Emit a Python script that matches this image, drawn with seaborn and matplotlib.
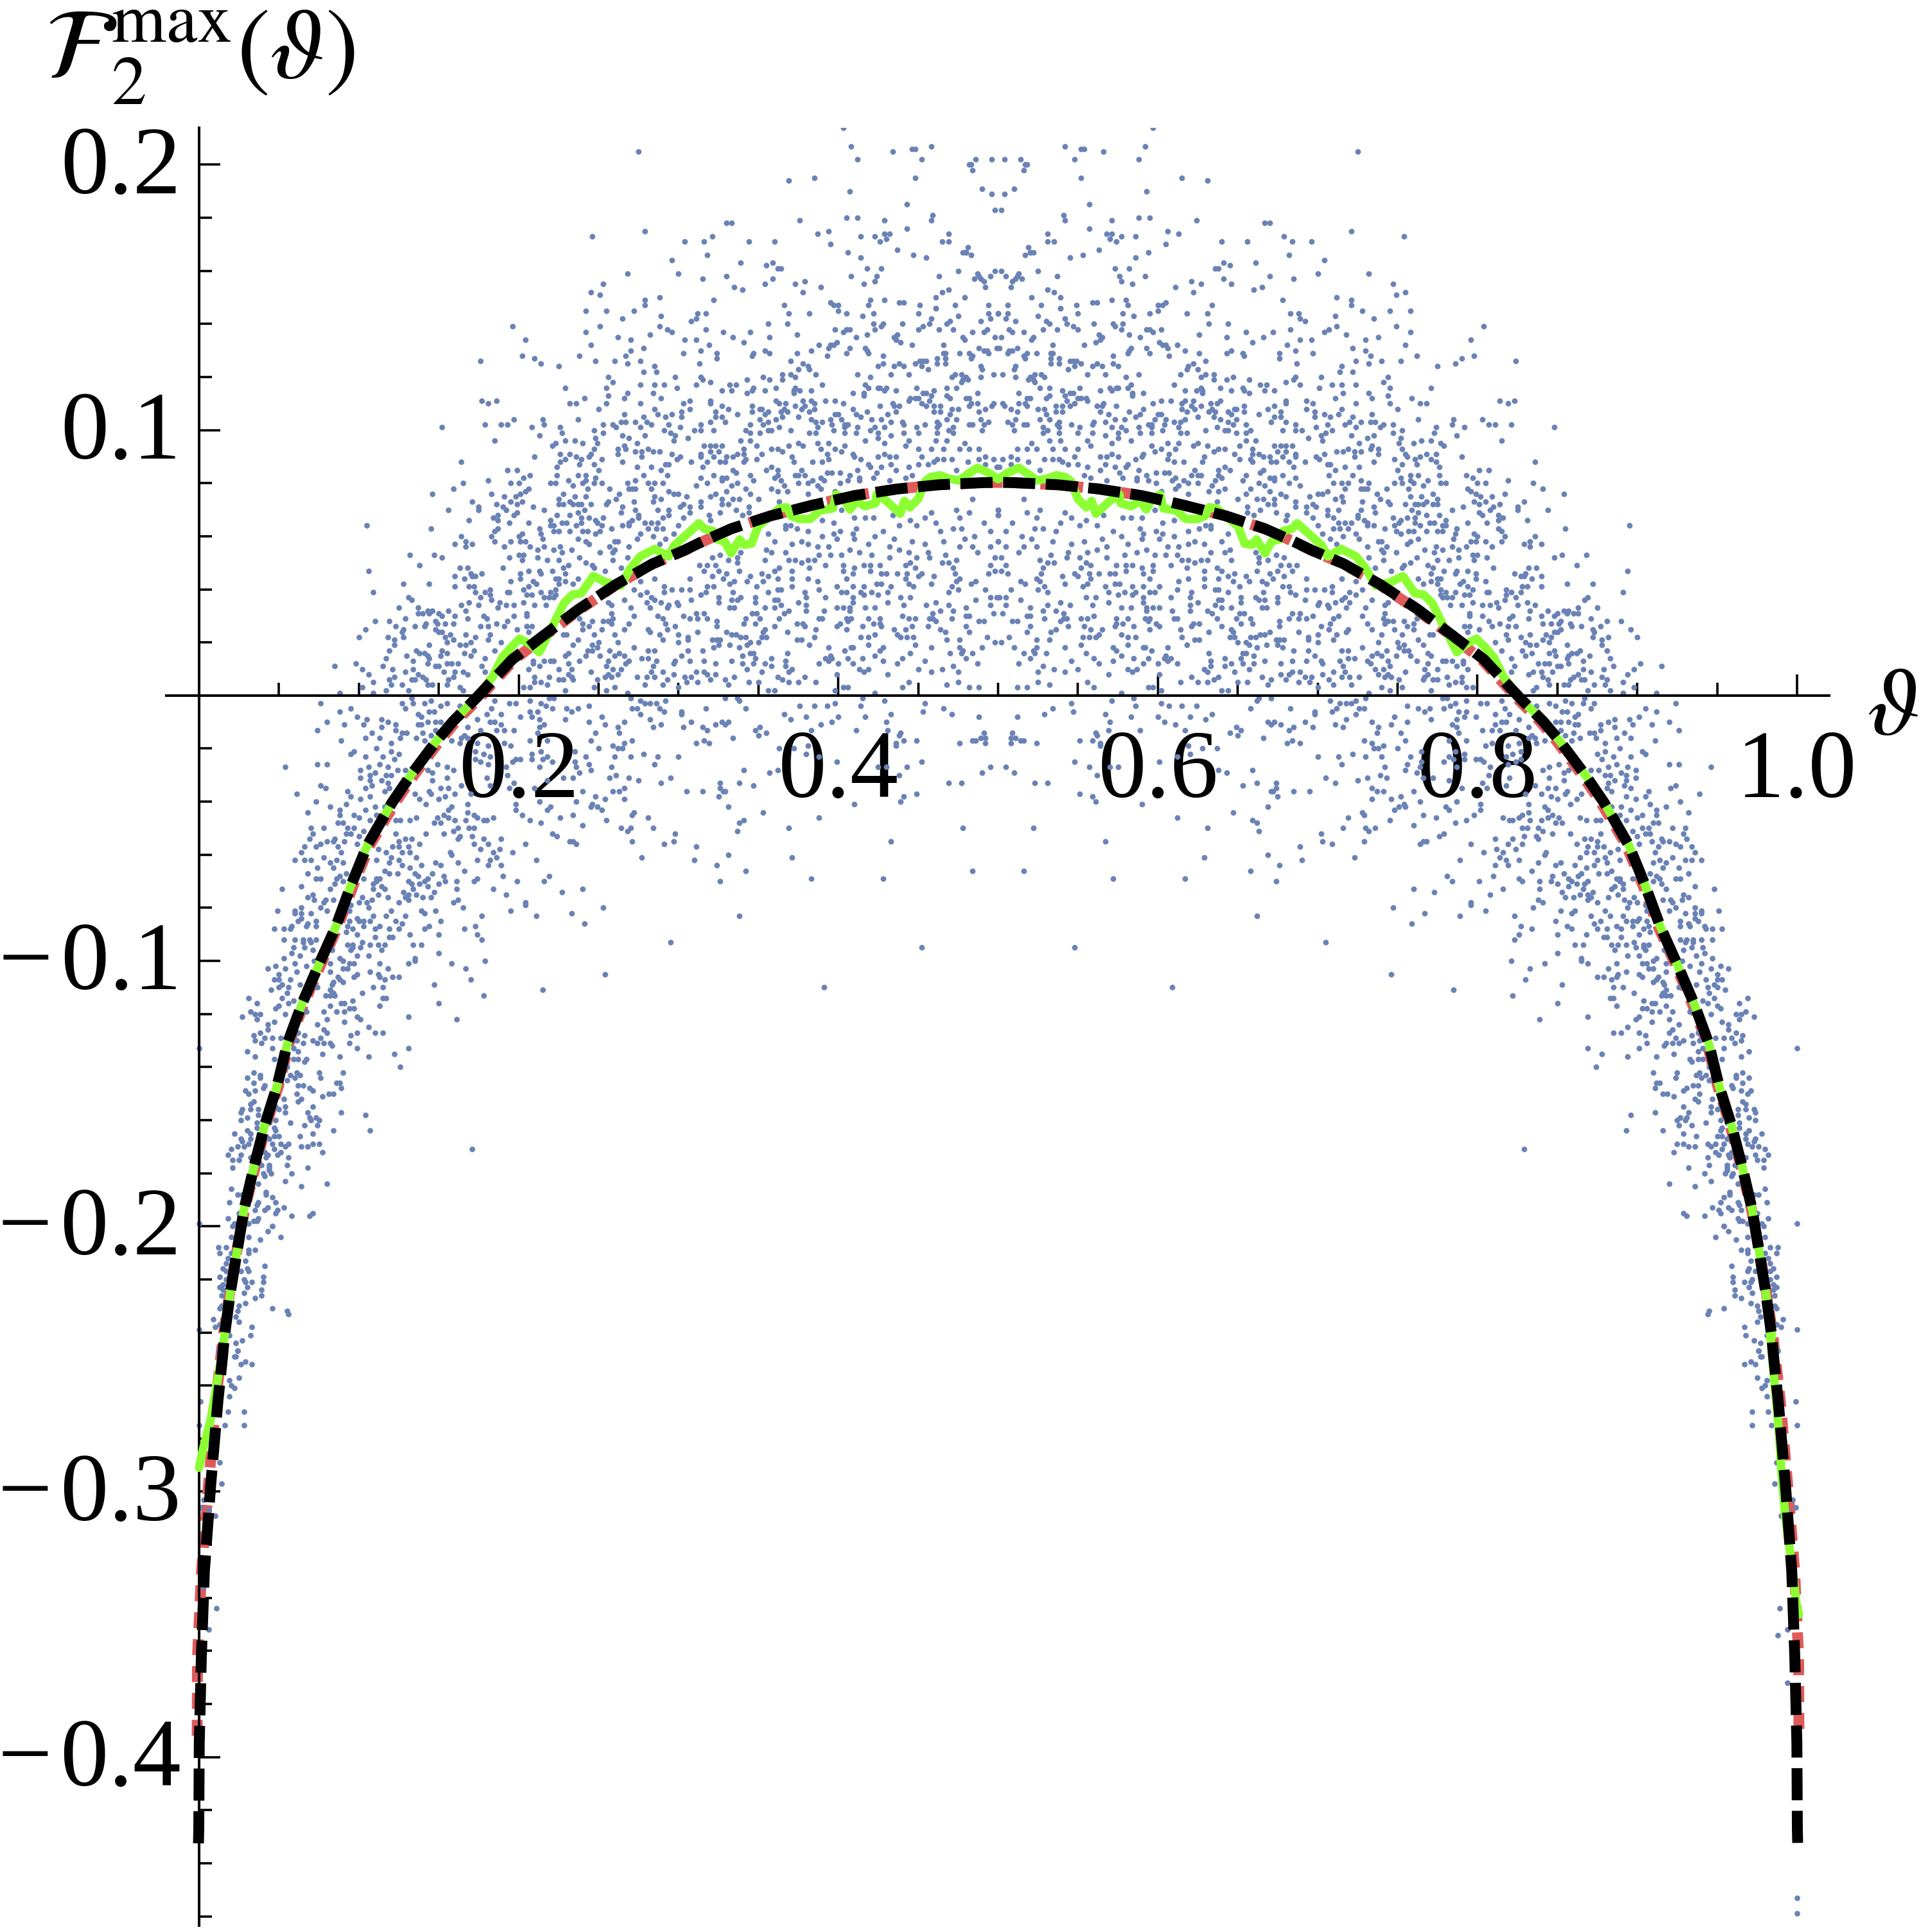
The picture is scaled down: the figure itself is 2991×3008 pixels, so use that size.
import numpy as np
import matplotlib
matplotlib.use("Agg")
import matplotlib.pyplot as plt
import matplotlib.transforms as mtrans
import seaborn as sns

# Values.  Curves are left-half readings (theta, value),
# the picture is mirror-symmetric about theta = 0.5.
black_left = [(-.0004,-.4325),(-.0002,-.4269),(.0001,-.3947),(.0014,-.3624),(.0033,-.33),(.0072,-.2979),(.0118,-.2657),(.0146,-.2496),(.0158,-.2417),(.0194,-.2256),(.0237,-.2096),(.0281,-.1937),(.0342,-.1779),(.0409,-.1622),(.0489,-.1469),(.0552,-.1312),(.0643,-.1163),(.0750,-.1013),(.0855,-.0872),(.0951,-.0715),(.1052,-.0565),(.1206,-.0405),(.1326,-.0299),(.1487,-.0170),(.1588,-.0098),(.1735,-.0009),(.1814,.0042),(.1960,.0136),(.2160,.0228),(.2375,.0325),(.2606,.0417),(.2837,.0496),(.3036,.0547),(.3135,.0576),(.3329,.0628),(.3577,.0677),(.3838,.0717),(.4100,.0753),(.4368,.0778),(.4629,.0794),(.4904,.0802),(.5,.0803)]
red_left = [(-.0012,-.392),(-.0010,-.3624),(.0015,-.33),(.0058,-.2979),(.0105,-.2657),(.0150,-.2417),(.0190,-.2256),(.0235,-.2096),(.0285,-.1937),(.0350,-.1779),(.0418,-.1622),(.0498,-.1469),(.0562,-.1312),(.0655,-.1163),(.0762,-.1013),(.0868,-.0872),(.0965,-.0715),(.1068,-.0565),(.1226,-.0405),(.1346,-.0299),(.1507,-.0170),(.1608,-.0098),(.1755,-.0009),(.1830,.0042),(.1975,.0136),(.2170,.0228),(.2385,.0325),(.2610,.0417),(.2840,.0496),(.3040,.0547),(.3137,.0576),(.3330,.0628),(.3577,.0677),(.3838,.0717),(.4100,.0753),(.4368,.0778),(.4629,.0794),(.4904,.0802),(.5,.0803)]
green_left_tail = [(0,-.291),(.0019,-.2853),(.0073,-.2727),(.0121,-.2559)]
green_right_tail = [(.9815,-.2297),(.9887,-.2778),(.9903,-.2934),(.9927,-.3098),(.9964,-.326),(.9995,-.3417),(1.0012,-.3463)]
green_left = [(.0158,-.2417),(.0194,-.2256),(.0237,-.2096),(.0281,-.1937),(.0342,-.1779),(.0409,-.1622),(.0489,-.1469),(.0552,-.1312),(.0643,-.1163),(.0750,-.1013),(.0855,-.0872),(.0951,-.0715),(.1052,-.0565),(.1206,-.0405),(.1326,-.0299),(.1487,-.0170),(.1588,-.0098),(.1735,-.0009),(.1837,.0070),(.1898,.0144),(.1945,.0177),(.2006,.0214),(.2068,.0195),(.2129,.0163),(.2168,.0209),(.2237,.0292),(.2283,.0348),(.2337,.0380),(.2391,.0385),(.2467,.0450),(.2544,.0427),(.2637,.0413),(.2698,.0478),(.2760,.0524),(.2852,.0552),(.2937,.0524),(.2975,.0566),(.3068,.0616),(.3128,.0649),(.3162,.0628),(.3216,.0620),(.3242,.0588),(.3289,.0580),(.3329,.0536),(.3383,.0588),(.3410,.0568),(.3457,.0572),(.3497,.0636),(.3631,.0705),(.3678,.0709),(.3704,.0677),(.3751,.0665),(.3825,.0665),(.3885,.0697),(.3966,.0705),(.3986,.0757),(.4033,.0741),(.4073,.0701),(.4113,.0733),(.4167,.0713),(.4234,.0725),(.4240,.0757),(.4301,.0733),(.4388,.0685),(.4414,.0733),(.4448,.0709),(.4501,.0741),(.4542,.0806),(.4575,.0822),(.4635,.0830),(.4689,.0818),(.4756,.0810),(.4810,.0834),(.4870,.0858),(.4944,.0838),(.5,.0815)]

# Dots: (theta, value) in thousandths, read region by region from the left half.
dots_low_left_a = [(76,-3),(88,-6),(95,-5),(80,-10),(74,-13),(91,-11),(89,-17),(99,-8),(105,-9),(103,-11),(114,-9),(114,-12),(108,-14),(104,-16),(113,-16),(118,-10),(123,-11),(123,-13),(127,-14),(130,-14),(126,-16),(120,-18),(111,-20),(120,-21),(125,-22),(115,-23),(104,-23),(97,-21),(95,-22),(122,-24),(74,-26),(80,-26),(54,-27),(101,-28),(106,-27),(113,-26),(118,-27),(110,-29),(124,-28),(129,-28),(117,-30),(120,-30),(107,-30),(101,-31),(114,-32),(107,-32),(118,-33),(104,-35),(108,-34),(76,-34),(79,-35),(61,-37),(93,-36),(116,-36),(119,-35),(95,-38),(101,-39),(107,-38),(73,-40),(82,-42),(92,-41),(88,-43),(104,-43),(110,-42),(116,-42),(68,-44),(97,-45),(88,-45),(100,-46),(111,-45),(107,-47),(87,-48),(90,-48),(78,-50),(70,-50),(71,-52),(93,-50),(97,-50),(103,-51),(92,-52),(95,-52),(100,-53),(69,-54),(85,-54),(91,-55),(80,-55),(84,-55),(66,-57),(73,-57),(76,-56),(87,-57),(64,-59),(89,-59),(99,-56),(78,-61),(60,-62),(66,-62),(70,-62),(82,-63),(86,-62),(90,-63),(84,-65),(74,-65),(68,-67),(73,-69),(76,-69),(86,-69),(88,-68),(92,-67),(85,-71),(90,-70),(52,-73),(64,-72),(82,-73),(71,-75),(68,-76),(72,-77),(79,-77),(84,-77),(78,-78),(76,-80),(49,-81),(64,-80),(60,-81),(64,-82),(60,-82),(70,-82),(80,-81),(64,-84),(62,-85),(73,-85),(68,-86),(58,-87),(73,-87),(47,-88),(53,-88),(57,-88),(67,-87),(53,-92),(60,-92),(65,-92),(69,-92),(65,-93),(70,-93),(73,-92),(59,-95),(66,-95),(71,-96),(58,-97),(63,-98),(53,-99),(72,-100),(43,-103),(48,-102),(54,-103),(60,-101),(61,-104),(67,-102),(50,-105),(47,-107),(50,-107),(57,-107),(52,-109),(56,-110),(50,-110),(45,-111),(63,-109),(55,-112),(52,-114),(31,-114),(36,-116),(56,-116),(59,-115),(50,-117),(48,-118),(32,-119),(38,-120),(35,-120),(27,-121),(36,-122),(54,-120),(47,-123),(43,-124)]
dots_low_left_b = [(133,-1),(127,-3),(134,-3),(141,-3),(145,-2),(151,-4),(155,-3),(163,-4),(129,-5),(144,-6),(147,-6),(137,-7),(139,-8),(143,-10),(148,-10),(151,-10),(139,-11),(137,-11),(140,-14),(148,-13),(145,-15),(136,-16),(141,-17),(158,-17),(163,-18),(168,-16),(164,-16),(166,-15),(174,-9),(180,-7),(183,-5),(189,-7),(194,-3),(198,-3),(185,-2),(182,-10),(185,-10),(189,-11),(186,-13),(191,-13),(197,-13),(201,-8),(176,-13),(168,-12),(174,-18),(181,-19),(191,-18),(195,-19),(173,-21),(178,-22),(182,-23),(173,-24),(176,-25),(181,-26),(198,-24),(201,-24),(196,-25),(192,-27),(149,-26),(155,-27),(159,-28),(143,-28),(146,-29),(155,-31),(146,-32),(156,-35),(151,-35),(144,-36),(164,-34),(180,-31),(182,-34),(193,-30),(197,-33),(194,-35),(135,-37),(138,-39),(145,-37),(150,-39),(154,-38),(160,-37),(142,-41),(168,-41),(156,-43),(158,-42),(170,-37),(198,-41),(198,-43),(202,-45),(136,-46),(132,-47),(126,-47),(123,-47),(149,-46),(147,-48),(151,-48),(153,-45),(156,-46),(160,-47),(168,-44),(172,-45),(167,-47),(174,-46),(178,-47),(180,-47),(184,-46),(169,-50),(172,-50),(162,-50),(159,-51),(153,-52),(142,-52),(123,-52),(163,-53),(162,-54),(171,-53),(129,-54),(133,-54),(125,-55),(178,-54),(189,-54),(181,-56),(138,-56),(172,-56),(125,-57),(121,-57),(112,-58),(131,-57),(176,-58),(204,-56),(188,-58),(184,-59),(117,-59),(127,-59),(132,-59),(157,-59),(196,-59),(136,-61),(158,-60),(120,-61),(125,-62),(111,-62),(186,-61),(174,-62),(182,-62),(148,-63),(162,-63),(119,-63),(181,-64),(151,-64),(127,-64),(139,-64),(189,-64),(132,-65),(166,-66),(116,-66),(119,-67),(124,-67),(146,-67),(135,-67),(190,-68),(153,-68),(174,-69),(137,-68),(111,-69),(113,-69),(143,-69),(131,-70),(154,-70),(161,-70),(199,-70),(172,-70),(103,-69),(141,-70),(109,-71),(111,-70),(133,-71),(138,-71),(150,-71),(114,-72),(143,-72),(184,-73),(116,-73),(134,-73),(109,-73),(161,-73),(128,-74),(147,-74),(131,-75),(112,-75),(136,-75),(145,-76),(192,-75),(102,-76),(118,-76),(140,-76),(129,-76),(131,-77),(162,-77),(159,-78),(108,-77),(125,-78),(105,-78),(100,-78),(204,-78),(165,-80),(204,-79),(95,-79),(106,-80),(148,-81),(139,-81),(120,-81),(94,-81),(195,-81),(141,-82),(109,-83),(177,-83),(117,-83),(129,-83),(99,-84),(123,-85),(94,-85),(151,-85),(100,-85),(103,-85),(107,-85),(127,-86),(93,-87),(113,-87),(173,-87),(141,-88),(144,-87),(96,-88),(103,-87),(119,-88),(125,-88),(166,-88),(110,-88),(92,-89),(150,-90),(99,-90),(174,-90),(132,-90),(110,-91),(119,-91),(121,-91),(177,-92),(93,-94),(96,-94),(102,-93),(107,-94),(112,-94),(116,-94),(134,-94),(139,-94),(96,-95),(101,-95),(83,-96),(114,-96),(95,-96),(150,-97),(99,-98),(106,-98),(135,-99),(88,-99),(90,-100),(131,-101),(135,-100),(179,-100),(158,-101),(113,-101),(94,-101),(97,-101),(82,-101),(90,-103),(93,-103),(167,-103),(118,-103),(82,-104),(107,-104),(112,-105),(99,-105),(97,-106),(121,-106),(125,-106),(113,-106),(87,-106),(170,-107),(88,-107),(90,-108),(116,-107),(84,-108),(147,-109),(83,-109),(115,-110),(82,-111),(74,-110),(109,-110),(84,-112),(102,-112),(178,-113),(79,-113),(82,-113),(85,-113),(115,-114),(117,-114),(113,-117),(96,-115),(89,-116),(91,-116),(150,-116),(82,-117),(67,-119),(78,-119),(91,-119),(94,-118),(97,-118),(86,-119),(131,-121),(99,-121),(101,-122),(161,-122),(80,-122),(74,-124),(91,-123),(106,-125)]
dots_arc_lower = [(43,-126),(38,-127),(34,-128),(41,-129),(46,-129),(35,-130),(39,-131),(51,-129),(0,-133),(30,-134),(35,-136),(46,-133),(62,-127),(66,-128),(61,-130),(71,-130),(76,-129),(80,-127),(78,-126),(95,-128),(99,-127),(110,-127),(115,-127),(65,-131),(74,-131),(78,-131),(82,-131),(83,-132),(94,-131),(99,-133),(131,-133),(122,-135),(59,-133),(62,-134),(77,-135),(88,-136),(106,-136),(126,-140),(59,-137),(62,-137),(67,-137),(66,-138),(47,-137),(55,-140),(75,-142),(90,-142),(34,-142),(38,-143),(30,-144),(38,-144),(57,-143),(61,-142),(63,-143),(60,-144),(76,-144),(55,-145),(86,-146),(88,-146),(34,-146),(41,-147),(62,-147),(65,-147),(89,-148),(69,-148),(71,-149),(29,-149),(35,-149),(40,-148),(31,-150),(61,-150),(81,-150),(84,-150),(77,-151),(53,-152),(64,-152),(62,-153),(34,-153),(32,-154),(71,-155),(54,-155),(27,-156),(32,-156),(37,-156),(48,-155),(50,-156),(26,-157),(68,-157),(89,-157),(54,-157),(104,-158),(30,-159),(37,-158),(26,-160),(48,-160),(69,-159),(73,-159),(70,-160),(75,-160),(36,-161),(44,-161),(57,-161),(66,-162),(74,-162),(36,-163),(47,-163),(48,-164),(107,-164),(84,-164),(22,-165),(30,-164),(32,-165),(71,-165),(50,-166),(63,-166),(44,-167),(47,-166),(26,-167),(32,-167),(27,-168),(31,-169),(56,-169),(46,-169),(51,-169),(64,-170),(68,-170),(71,-169),(75,-169),(54,-170),(24,-170),(28,-170),(20,-171),(47,-171),(171,-171),(18,-173),(51,-172),(49,-173),(77,-172),(26,-173),(41,-172),(43,-173),(32,-174),(56,-174),(21,-175),(25,-175),(42,-174),(44,-177),(55,-177),(21,-178),(39,-177),(44,-178),(68,-178),(44,-179),(58,-180),(45,-180),(40,-180),(41,-181),(54,-183),(80,-184),(64,-185),(37,-184),(20,-186),(24,-188),(27,-188),(42,-187),(42,-188),(46,-189),(48,-191),(19,-191),(37,-191),(36,-192),(43,-193),(41,-194),(49,-194),(53,-193),(35,-194),(25,-195),(71,-195),(48,-195),(58,-196),(69,-196),(18,-197),(37,-197),(34,-198),(36,-198),(22,-199),(0,-199),(46,-200),(46,-200),(21,-200),(43,-202),(31,-199),(20,-204),(31,-204),(51,-204),(38,-205),(12,-208),(13,-210),(17,-208),(31,-209),(35,-209),(20,-210),(31,-210),(18,-212),(29,-213),(41,-215),(17,-214),(30,-216),(15,-216),(17,-217),(26,-217),(31,-217),(13,-219),(40,-219),(28,-220),(17,-220),(29,-221),(33,-221),(40,-221),(13,-223),(15,-222),(30,-223),(15,-224),(28,-225),(39,-224),(14,-226),(39,-226),(35,-227),(29,-229),(14,-230),(25,-230),(46,-231),(13,-231),(24,-232),(55,-232),(56,-233),(9,-235),(23,-234),(25,-236),(10,-238),(33,-238),(13,-237),(32,-241),(19,-241),(27,-243),(23,-244),(24,-247),(23,-249),(0,-239),(12,-247),(33,-252),(29,-251),(26,-252),(22,-249),(24,-247),(25,-257),(19,-258),(22,-261),(20,-260),(19,-264),(28,-270),(28,-275),(18,-270),(16,-275),(13,-289),(14,-297),(10,-309),(6,-307),(11,-344),(6,-352),(1,-266),(0,-275),(3,-303),(1,-306),(3,-336)]
dots_below_centre = [(207,-2),(214,-3),(219,-1),(222,-1),(217,-4),(221,-5),(230,-5),(233,-6),(237,-5),(244,-4),(207,-6),(212,-6),(213,-9),(229,-9),(208,-8),(252,-8),(244,-10),(254,-11),(262,-12),(266,-10),(213,-12),(216,-11),(212,-14),(248,-14),(263,-14),(207,-17),(218,-17),(245,-17),(271,-17),(266,-18),(259,-19),(250,-20),(262,-20),(265,-20),(235,-21),(214,-21),(208,-22),(242,-23),(260,-23),(270,-23),(278,-22),(287,-23),(300,-23),(218,-23),(208,-24),(215,-24),(235,-25),(221,-25),(285,-26),(213,-27),(236,-27),(244,-26),(245,-28),(258,-27),(238,-29),(261,-30),(257,-31),(228,-31),(234,-31),(269,-31),(295,-31),(275,-32),(218,-32),(289,-33),(266,-35),(210,-35),(240,-36),(305,-36),(315,-36),(259,-36),(263,-36),(248,-38),(254,-39),(266,-39),(236,-40),(213,-40),(220,-42),(218,-43),(246,-41),(245,-42),(249,-42),(252,-43),(272,-44),(271,-45),(234,-45),(226,-46),(207,-47),(214,-48),(281,-46),(255,-47),(240,-49),(284,-50),(264,-50),(268,-51),(270,-50),(298,-52),(221,-52),(224,-53),(297,-55),(271,-55),(232,-55),(234,-55),(236,-56),(291,-56),(311,-57),(211,-62),(277,-61),(310,-62),(331,-60),(324,-64),(342,-66),(219,-68),(216,-70),(326,-70),(240,-73),(227,-74),(253,-80),(211,-83),(233,-82),(241,-86),(338,-83),(295,-93),(254,-105),(215,-111),(391,-110),(452,-95),(484,-66),(428,-69),(383,-69),(371,-61),(433,-55),(478,-50),(369,-50),(388,-46),(353,-44),(341,-47),(338,-48),(337,-51),(331,-42),(325,-38),(328,-36),(329,-36),(326,-35),(326,-33),(338,-33),(347,-34),(357,-29),(362,-28),(341,-28),(363,-20),(410,-41),(439,-40),(441,-38),(449,-37),(469,-33),(477,-33),(490,-29),(495,-27),(438,-30),(443,-27),(452,-25),(399,-25),(425,-27),(430,-27),(380,-22),(381,-19),(372,-20),(388,-23),(436,-19),(436,-18),(441,-17),(449,-17),(438,-15),(439,-14),(476,-18),(484,-17),(486,-17),(489,-16),(492,-16),(492,-18),(491,-14),(270,-1),(276,-2),(279,-3),(282,-3),(286,-3),(292,-2),(271,-5),(274,-5),(276,-7),(288,-5),(291,-6),(282,-9),(284,-12),(289,-11),(302,-6),(302,-7),(317,-5),(303,-12),(308,-10),(315,-12),(318,-13),(323,-11),(327,-10),(329,-11),(331,-10),(329,-1),(337,-1),(338,-2),(342,-5),(334,-16),(348,-13),(351,-12),(350,-15),(355,-14),(316,-17),(311,-18),(319,-18),(366,-7),(370,-9),(376,-4),(385,-4),(380,-8),(393,-4),(398,-3),(400,-8),(396,-10),(389,-11),(383,-13),(411,-13),(414,-4),(415,-1),(417,-8),(429,-2),(433,-7),(430,-10),(431,-13),(454,-3),(453,-6),(466,-5),(471,-7),(488,-8)]
dots_mid_left_upper = [(196,139),(204,134),(202,128),(176,126),(210,127),(214,125),(225,124),(242,145),(255,145),(272,145),(265,142),(251,139),(242,137),(245,132),(238,128),(248,126),(260,126),(262,135),(270,134),(267,128),(270,130),(268,125),(278,131),(276,126),(282,136),(289,143),(288,139),(293,138),(296,137),(304,134),(303,129),(285,124),(286,122),(278,122),(256,120),(259,118),(255,116),(229,116),(256,113),(268,114),(276,117),(285,117),(291,117),(298,120),(299,116),(284,114),(241,112),(232,110),(236,110),(177,111),(181,110),(186,111),(250,108),(255,110),(266,112),(276,110),(289,112),(303,110),(307,111),(285,108),(302,107),(307,108),(296,106),(287,106),(292,105),(302,105),(266,106),(278,105),(215,104),(216,102),(197,104),(193,102),(189,102),(179,102),(237,104),(259,102),(253,102),(264,103),(267,103),(273,103),(280,103),(283,102),(294,102),(301,101),(152,101),(208,101),(226,101),(247,100),(261,101),(276,101),(291,100),(227,99),(253,99),(295,99),(265,98),(279,98),(213,98),(248,97),(269,97),(298,98),(185,96),(229,96),(235,96),(306,97),(297,96),(274,95),(249,95),(223,95),(240,95),(221,94),(247,93),(262,93),(266,94),(267,93),(281,93),(277,92),(284,92),(288,92),(273,92),(245,91),(262,91),(226,91),(232,91),(296,91),(236,90),(210,90),(301,90),(277,90),(239,89),(244,90),(229,89),(299,89),(265,88),(252,89),(226,88),(164,88),(247,87),(308,88),(292,87),(238,87),(294,87),(274,86),(283,86),(224,86),(250,85),(193,85),(199,85),(289,85),(237,83),(242,83),(224,83),(278,83),(293,83),(207,83),(203,82),(248,82),(231,81),(290,80),(181,81),(165,80),(195,80),(200,80),(268,80),(281,80),(220,80),(223,80),(242,81),(247,80),(252,80),(285,80),(273,81),(234,79),(240,80),(206,78),(243,78),(257,78),(269,78),(159,78),(271,78),(273,78),(283,78),(204,77),(201,76),(294,77),(263,76),(228,76),(146,76),(183,76),(305,75),(297,76),(300,76),(198,75),(235,75),(191,75),(242,75),(285,75),(225,74),(261,74),(195,73),(232,73),(234,72),(256,73),(284,73),(289,74),(202,73),(171,73),(199,72),(237,72),(239,72),(303,72),(272,73),(245,72),(255,72),(265,71),(225,72),(228,72),(175,71),(186,72),(175,70),(209,71),(190,71),(192,70),(156,70),(301,71),(307,71),(216,70),(241,70),(273,70),(287,70),(294,70),(264,69),(199,69),(197,68),(237,69),(187,68),(232,68),(224,68),(275,68),(294,68),(290,67),(303,67),(307,69),(184,67),(244,67),(239,67),(220,66),(253,67),(187,66),(248,66),(275,67),(271,66),(279,65),(169,66),(239,65),(206,65),(283,65),(105,64),(194,65),(269,65),(227,65),(230,65),(249,65),(252,64),(265,64),(287,65),(300,64),(220,64),(236,64),(222,64),(258,63),(269,64),(145,63),(187,63),(213,63),(281,63),(286,63),(290,63),(225,62),(222,62),(232,62),(240,62),(251,62),(243,62),(185,62),(202,61),(248,61),(297,61),(214,61),(164,60),(200,60),(276,61),(284,60),(183,60),(237,59),(215,59),(201,58),(274,59),(167,58),(185,58),(204,58),(195,58),(242,58),(292,59),(260,58),(262,58),(160,57),(171,57),(244,57),(288,57),(191,56),(216,56),(226,56),(257,56),(269,56),(167,56),(222,55),(207,56),(212,55),(233,55),(260,55),(251,54),(227,54),(200,53),(203,53),(132,53),(147,53),(152,52),(259,54),(194,52),(212,52),(238,52),(268,52),(218,51),(225,51),(242,50),(202,51),(259,51)]
dots_mid_left_lower = [(163,48),(168,48),(170,46),(177,46),(160,45),(166,44),(171,45),(173,45),(106,47),(138,49),(190,48),(201,46),(206,47),(213,47),(214,46),(221,47),(228,48),(231,49),(229,46),(246,49),(247,48),(254,47),(264,48),(223,44),(225,44),(237,44),(229,43),(201,44),(144,42),(128,42),(195,43),(209,43),(225,42),(234,42),(285,44),(307,44),(160,41),(206,41),(211,42),(276,43),(109,39),(169,41),(172,41),(182,40),(223,40),(291,41),(203,40),(193,39),(296,40),(302,40),(173,39),(179,39),(194,39),(208,38),(214,39),(220,39),(307,40),(272,40),(182,38),(205,38),(223,38),(280,39),(291,39),(276,38),(176,37),(131,37),(133,36),(183,36),(216,37),(219,37),(222,37),(266,36),(283,37),(285,36),(308,36),(188,35),(164,34),(169,35),(175,34),(203,35),(217,34),(256,35),(289,35),(280,35),(299,35),(294,34),(258,34),(187,33),(192,34),(197,34),(210,34),(300,34),(270,33),(125,33),(137,33),(143,32),(146,32),(156,32),(167,32),(282,33),(293,33),(150,31),(137,31),(140,31),(144,31),(205,31),(258,31),(303,30),(160,30),(178,30),(197,30),(152,30),(205,30),(129,29),(272,30),(287,30),(238,29),(168,29),(180,29),(290,29),(307,29),(110,28),(186,27),(119,28),(148,28),(193,28),(240,27),(246,28),(253,28),(256,28),(269,27),(292,27),(259,29),(123,26),(142,27),(154,27),(159,27),(176,26),(181,26),(208,26),(135,26),(141,26),(149,27),(191,26),(205,26),(244,26),(252,25),(258,27),(293,25),(298,26),(104,25),(128,25),(148,25),(199,25),(240,25),(266,25),(281,25),(306,22),(206,24),(127,24),(152,24),(150,24),(282,24),(300,23),(288,23),(100,22),(118,22),(182,23),(228,23),(230,23),(247,23),(260,23),(154,22),(128,22),(167,23),(157,23),(159,21),(122,21),(170,20),(173,22),(181,21),(189,20),(237,21),(250,20),(290,21),(306,21),(122,19),(144,19),(155,20),(163,19),(167,19),(234,19),(246,19),(262,20),(300,20),(119,17),(136,17),(152,17),(172,17),(185,17),(249,18),(272,18),(243,17),(246,17),(281,17),(306,17),(231,16),(285,17),(257,17),(138,16),(141,16),(166,16),(170,15),(130,15),(143,15),(151,15),(155,16),(229,15),(251,15),(260,15),(263,16),(266,15),(302,15),(117,14),(144,14),(179,14),(242,15),(277,14),(281,14),(134,13),(209,13),(220,13),(222,13),(238,13),(256,13),(269,13),(286,13),(298,13),(307,13),(85,11),(98,12),(143,12),(155,12),(158,12),(216,13),(213,11),(231,12),(177,11),(209,12),(255,11),(259,10),(267,12),(284,11),(297,12),(115,11),(148,11),(150,11),(162,12),(206,10),(225,10),(233,10),(264,10),(102,10),(121,10),(134,10),(129,9),(153,9),(165,9),(179,9),(245,9),(290,9),(283,9),(297,8),(106,8),(168,8),(160,9),(231,8),(256,8),(262,8),(274,7),(280,7),(304,7),(122,7),(159,7),(137,8),(140,7),(210,7),(219,7),(233,7),(254,7),(249,6),(258,7),(285,7),(308,7),(119,6),(133,6),(135,6),(142,6),(156,6),(225,6),(228,6),(234,6),(293,6),(109,5),(214,5),(305,5),(120,4),(127,4),(143,4),(146,4),(155,4),(210,5),(218,4),(279,4),(290,4),(300,3),(102,3),(117,2),(203,3),(207,3),(163,3),(229,2),(255,2),(268,1),(109,1),(88,1),(131,2),(165,2),(260,3),(247,3)]
dots_top = [(275,205),(246,173),(268,159),(253,155),(245,152),(251,151),(279,175),(279,149),(279,147),(288,150),(304,171),(296,164),(300,159),(308,141),(403,214),(408,207),(412,202),(434,205),(446,206),(448,206),(458,207),(452,202),(486,202),(483,200),(482,200),(496,202),(484,198),(369,194),(385,195),(448,195)]
dots_upper_band = [(407,190),(490,191),(496,189),(443,185),(498,183),(330,178),(333,178),(376,179),(405,180),(412,180),(429,179),(459,181),(458,179),(321,173),(316,171),(344,171),(360,171),(387,174),(394,175),(395,170),(414,173),(423,173),(426,171),(429,174),(430,172),(432,174),(443,176),(469,174),(465,171),(469,171),(437,168),(318,166),(406,167),(414,165),(447,166),(455,165),(481,169),(478,167),(480,167),(480,167),(483,166),(339,163),(355,162),(359,163),(362,161),(364,161),(418,161),(427,161),(315,157),(330,158),(359,157),(408,158),(424,158),(423,156),(463,158),(475,160),(487,159),(498,160),(485,157),(488,158),(489,157),(491,156),(495,158),(335,154),(340,153),(354,155),(373,155),(379,156),(389,154),(416,155),(492,154),(378,152),(469,153),(465,152),(479,150),(461,150),(322,149),(366,147),(395,148),(397,147),(400,147),(420,149),(429,149),(419,147),(438,148),(441,148),(451,147),(473,147),(494,147),(461,146)]
dots_middle_band = [(312,144),(317,144),(311,142),(317,138),(328,137),(334,135),(311,134),(341,133),(319,132),(314,130),(324,129),(324,127),(313,125),(345,137),(356,140),(357,135),(354,130),(357,129),(347,129),(346,128),(369,144),(368,140),(382,144),(374,136),(374,129),(383,130),(388,132),(370,126),(378,125),(381,124),(382,123),(375,123),(365,121),(370,121),(373,120),(386,121),(353,120),(357,119),(365,119),(343,119),(314,120),(315,119),(320,118),(311,117),(332,117),(336,117),(333,115),(327,115),(347,116),(346,115),(343,114),(354,115),(361,116),(373,116),(372,115),(372,114),(376,115),(383,115),(390,117),(361,111),(363,110),(367,110),(320,111),(320,110),(378,111),(379,109),(383,111),(385,110),(392,111),(398,111),(403,110),(400,145),(405,144),(415,143),(422,144),(398,138),(403,137),(407,138),(405,138),(411,135),(418,136),(423,138),(422,140),(428,140),(427,139),(440,140),(399,133),(395,132),(397,132),(394,131),(407,131),(405,129),(393,128),(417,131),(418,130),(419,129),(428,128),(435,135),(437,136),(436,134),(439,133),(446,132),(450,138),(453,139),(450,144),(457,140),(458,142),(463,138),(461,146),(468,140),(470,141),(472,138),(475,143),(484,137),(489,141),(494,144),(495,142),(500,144),(491,137),(493,138),(478,135),(479,134),(498,135),(466,132),(466,129),(467,129),(476,129),(482,129),(484,128),(483,127),(488,131),(491,130),(493,130),(494,129),(499,131),(462,127),(467,127),(462,125),(467,125),(451,126),(453,126),(455,126),(448,125),(452,124),(456,123),(425,124),(428,125),(435,124),(438,125),(441,124),(433,121),(444,121),(412,121),(420,120),(489,124),(490,123),(497,121),(473,121),(477,121),(471,120),(489,120),(480,120),(478,119),(481,119),(477,118),(417,117),(419,116),(425,116),(426,116),(430,116),(429,115),(436,115),(449,116),(409,114),(416,114),(416,113),(460,115),(468,116),(474,116),(453,114),(455,114),(458,113),(468,113),(470,112),(457,111),(444,111),(445,112),(448,112),(450,112),(487,114),(480,112),(482,112),(434,110),(452,110),(455,109),(460,109),(435,109),(438,109),(426,109),(464,109),(483,110),(482,109),(487,110),(497,110),(496,109),(492,108),(475,108),(471,108),(488,107),(464,107),(460,107),(470,106),(436,107),(431,106),(418,107),(409,108),(411,106),(414,105),(398,106),(400,106),(385,108),(382,107),(377,108),(373,109),(364,107),(366,108),(368,107),(365,105),(354,106),(356,107),(351,108),(352,108),(346,109),(346,107),(337,106),(331,108),(327,109),(323,107),(327,105),(323,105),(329,103),(320,103),(314,102),(322,100),(314,100),(310,100),(345,102),(351,104),(353,102),(356,103),(361,104),(375,105),(363,101),(342,100),(345,99),(351,99),(356,100),(358,100),(370,100),(383,104),(390,103),(386,103),(387,101),(395,104),(396,102),(402,104),(404,102),(406,102),(404,101),(397,100),(386,99),(382,99),(404,99),(412,101),(411,99),(420,100),(423,101),(421,104),(427,104),(429,101),(433,103),(440,103),(441,102),(441,99),(449,101),(454,102),(450,99),(462,103),(462,101),(463,102),(468,104),(469,100),(472,101),(472,99),(474,104),(482,102),(484,102),(489,104),(491,102),(494,103),(490,100),(462,99),(425,99),(433,98)]
dots_centre_a = [(316,94),(320,94),(323,94),(327,94),(320,92),(325,92),(314,91),(322,90),(330,90),(334,90),(314,90),(318,88),(326,88),(329,88),(341,88),(342,89),(337,91),(341,91),(341,93),(345,96),(339,96),(349,94),(352,91),(349,89),(358,93),(362,93),(365,92),(369,94),(375,95),(378,94),(371,90),(372,88),(384,88),(390,88),(394,89),(389,93),(387,95),(394,95),(398,93),(404,94),(402,92),(409,91),(410,90),(414,89),(393,91),(419,87),(425,90),(429,91),(432,90),(436,90),(417,96),(425,97),(429,95),(442,94),(444,96),(450,93),(452,90),(450,87),(456,87),(458,93),(461,96),(468,96),(466,93),(462,89),(460,88),(466,89),(471,89),(476,93),(479,95),(482,93),(481,88),(488,93),(488,89),(492,90),(492,87),(497,89),(499,86),(315,86),(334,85),(336,84),(355,85),(358,86),(362,85),(377,85),(393,84),(396,84),(401,84),(407,83),(412,85),(420,86),(427,86),(433,87),(436,85),(444,86),(474,85),(322,83),(327,82),(330,82),(345,83),(360,82),(362,83),(373,83),(375,83),(379,83),(389,82),(413,82),(422,82),(424,84),(446,83),(442,82),(314,82),(327,81),(337,80),(347,81),(364,81),(375,80),(384,81),(391,81),(406,81),(413,81),(432,81),(318,80),(311,79),(333,79),(342,78),(358,78),(366,79),(381,80),(387,79),(398,77),(401,80),(330,77),(345,76),(362,77),(368,77),(381,76),(389,78),(320,75),(323,76),(314,73),(327,74),(334,74),(338,74),(350,74),(344,71),(331,72),(327,72),(314,71),(319,68),(326,69),(336,70),(340,68),(344,69),(363,73),(320,66)]
dots_centre_b = [(367,64),(367,63),(370,64),(374,63),(381,62),(390,66),(397,65),(402,70),(410,67),(417,67),(422,67),(434,68),(445,66),(454,67),(458,69),(461,65),(449,64),(438,64),(411,63),(401,62),(397,61),(390,60),(409,61),(423,60),(428,62),(356,61),(360,58),(371,57),(377,58),(381,57),(387,56),(399,59),(410,59),(419,57),(432,56),(435,59),(446,58),(454,57),(466,58),(472,63),(477,63),(464,62),(479,59),(485,60),(491,65),(495,62),(482,69),(476,67),(474,70),(484,74),(500,70),(500,68),(500,58),(495,56),(476,56),(484,56),(487,54),(456,54),(444,54),(438,55),(421,53),(413,54),(407,55),(402,53),(395,53),(394,56),(388,53),(367,54),(358,54),(355,55),(326,53),(337,52),(339,54),(321,52),(331,51),(337,50),(313,49),(318,49),(323,49),(354,51),(369,51),(373,51),(377,50),(381,51),(385,51),(392,49),(403,49),(410,48),(416,49),(420,49),(426,49),(432,52),(449,52),(457,52),(467,53),(474,51),(465,50),(469,50),(442,49),(445,50),(448,48),(472,48),(495,49),(498,52),(498,47),(316,47),(325,47),(330,46),(338,47),(363,48),(371,47),(382,48),(403,47),(409,46),(420,47),(427,46),(430,46),(437,46),(443,46),(452,46),(473,46),(494,46),(321,45),(328,44),(335,43),(343,43),(345,45),(352,46),(360,47),(356,45),(362,44),(353,43),(371,44),(381,44),(387,43),(405,44),(442,44),(450,45),(460,45),(474,43),(476,44),(486,43),(483,42),(332,42),(318,41),(322,41),(349,41),(371,41),(399,41),(409,41),(416,41),(424,42),(427,42),(433,41),(444,42),(447,41),(458,42),(471,41),(475,40),(492,40),(314,38),(317,39),(325,37),(334,39),(356,39),(362,40),(364,40),(379,39),(388,40),(402,39),(405,39),(409,37),(414,39),(416,38),(421,39),(425,38),(431,39),(469,39),(392,37),(333,36),(337,36),(339,37),(348,37),(360,36),(362,36),(380,37),(439,37),(445,37),(486,36),(495,37),(499,37),(325,35),(332,33),(335,33),(348,35),(354,33),(360,33),(364,34),(375,35),(380,34),(409,35),(431,35),(441,34),(455,34),(461,35),(469,34),(495,34),(480,33),(399,33),(403,33),(407,33),(423,33),(417,33),(464,32),(472,32),(497,31),(311,31),(391,32),(346,31),(369,32),(380,32),(407,32),(366,31),(440,30),(316,31),(342,29),(349,31),(459,31),(480,30),(482,30),(312,29),(318,29),(351,29),(363,29),(388,29),(390,29),(405,29),(408,29),(419,29),(426,29),(444,29),(448,29),(471,29),(457,29),(459,29)]
dots_centre_c = [(324,28),(341,27),(348,27),(378,27),(374,27),(401,27),(406,28),(426,27),(488,28),(491,28),(461,28),(324,26),(312,24),(360,26),(379,26),(386,25),(399,26),(415,26),(422,27),(427,26),(446,26),(442,25),(456,26),(464,25),(480,26),(482,24),(354,25),(353,24),(368,24),(405,25),(423,23),(435,25),(467,24),(330,24),(333,23),(336,23),(339,22),(342,22),(352,22),(355,22),(414,22),(419,22),(437,23),(439,22),(443,22),(447,22),(468,21),(476,21),(493,22),(321,21),(324,21),(326,21),(374,21),(377,21),(385,22),(350,20),(498,20),(345,20),(332,19),(325,19),(322,18),(338,18),(343,19),(382,19),(419,19),(448,19),(490,18),(394,18),(408,18),(409,18),(428,18),(458,18),(476,18),(478,17),(315,17),(404,17),(426,17),(470,16),(484,16),(368,16),(345,16),(347,16),(340,15),(423,15),(395,15),(445,16),(477,16),(358,14),(392,14),(406,14),(440,14),(348,14),(480,14),(316,13),(394,13),(396,14),(415,14),(437,12),(454,13),(367,13),(323,12),(333,13),(340,12),(354,12),(388,12),(400,12),(428,13),(487,12),(347,12),(358,11),(367,11),(409,12),(472,11),(343,10),(413,10),(419,10),(450,10),(465,10),(371,10),(369,9),(311,9),(316,9),(352,9),(416,9),(431,8),(458,9),(475,9),(399,8),(323,8),(318,8),(335,7),(320,6),(329,6),(362,7),(365,6),(350,5),(375,5),(379,7),(312,5),(331,4),(344,5),(369,5),(386,5),(444,5),(475,5),(468,4),(403,3),(406,3),(356,2),(360,2),(398,2),(440,3),(482,3),(488,3),(423,1)]
dots_right_only = [(1000,-453),(1000,-459),(999,-406),(999,-391),(994,-372),(988,-354)]

axis_x_major = [0.2, 0.4, 0.6, 0.8, 1.0]
axis_x_labels = ["0.2", "0.4", "0.6", "0.8", "1.0"]
axis_x_minor = [0.05, 0.1, 0.15, 0.25, 0.3, 0.35, 0.45, 0.5, 0.55, 0.65, 0.7, 0.75, 0.85, 0.9, 0.95]
axis_y_major = [-0.4, -0.3, -0.2, -0.1, 0.0, 0.1, 0.2]
axis_y_labels = ["\u2212\u200a0.4", "\u2212\u200a0.3", "\u2212\u200a0.2", "\u2212\u200a0.1", "", "0.1", "0.2"]
axis_y_minor = [-0.46,-0.44,-0.42,-0.38,-0.36,-0.34,-0.32,-0.28,-0.26,-0.24,-0.22,-0.18,-0.16,-0.14,-0.12,-0.08,-0.06,-0.04,-0.02,0.02,0.04,0.06,0.08,0.12,0.14,0.16,0.18]

COL_DOT, COL_RED, COL_GREEN = "#6A82B5", "#E05A5A", "#8CFF32"

sns.set_theme(style="white")
plt.rcParams["font.family"] = ["Liberation Serif", "DejaVu Sans"]
plt.rcParams["mathtext.fontset"] = "stix"

W, H = 2991, 3008
fig = plt.figure(figsize=(W / 100, H / 100), dpi=100, facecolor="white")
ax = fig.add_axes([259 / W, 1 - 2998 / H, (2848 - 259) / W, (2998 - 199) / H])
ax.set_facecolor("white")


def mirrored(rows):
    a = np.array(rows, float)
    return np.r_[a[:, 0], 1 - a[::-1, 0]], np.r_[a[:, 1], a[::-1, 1]]


# red dashes, under the dots
x, y = mirrored(red_left)
sns.lineplot(x=x, y=y, sort=False, estimator=None, ax=ax, color=COL_RED, linewidth=12.2,
             linestyle=(0, (1.47, 1.0)), dash_capstyle="butt", zorder=1, legend=False)

# dots: left-half readings and their mirror image
left = np.array(dots_low_left_a + dots_low_left_b + dots_arc_lower + dots_below_centre + dots_mid_left_upper
                + dots_mid_left_lower + dots_top + dots_upper_band + dots_middle_band
                + dots_centre_a + dots_centre_b + dots_centre_c, float) / 1000
extra = np.array(dots_right_only, float) / 1000
dx = np.r_[left[:, 0], 1 - left[:, 0], extra[:, 0]]
dy = np.r_[left[:, 1], left[:, 1], extra[:, 1]]
sns.scatterplot(x=dx, y=dy, s=40, color=COL_DOT, linewidth=0, ax=ax, zorder=1.5, legend=False)

# green wobbling curve
gl, gv = mirrored(green_left)
glt, grt = np.array(green_left_tail), np.array(green_right_tail)
gx = np.r_[glt[:, 0], gl, grt[:, 0]]
gy = np.r_[glt[:, 1], gv, grt[:, 1]]
sns.lineplot(x=gx, y=gy, sort=False, estimator=None, ax=ax, color=COL_GREEN, linewidth=9.5,
             solid_joinstyle="round", solid_capstyle="round", zorder=4, legend=False)

# black dashes on top
x, y = mirrored(black_left)
sns.lineplot(x=x, y=y, sort=False, estimator=None, ax=ax, color="black", linewidth=12.2,
             linestyle=(0, (2.95, 0.97)), dash_capstyle="butt", zorder=5, legend=False)

ax.set_xlim(-0.0205, 1.0201)
ax.set_ylim(-0.4635, 0.2139)
ax.set_xlabel("")
ax.set_ylabel("")
ax.grid(False)
sns.despine(ax=ax, top=True, right=True)
for side in ("left", "bottom"):
    ax.spines[side].set_position(("data", 0))
    ax.spines[side].set_linewidth(2.9)
    ax.spines[side].set_color("black")

ax.set_xticks(axis_x_major, axis_x_labels)
ax.set_xticks(axis_x_minor, minor=True)
ax.set_yticks(axis_y_major, axis_y_labels)
ax.set_yticks(axis_y_minor, minor=True)
ax.tick_params(axis="both", which="both", bottom=True, left=True, top=False, right=False)
ax.tick_params(axis="both", which="major", direction="in", length=23.8, width=2.6, labelsize=108, colors="black")
ax.tick_params(axis="both", which="minor", direction="in", length=14.4, width=2.6, colors="black")
ax.tick_params(axis="x", which="major", pad=39)
ax.tick_params(axis="y", which="major", pad=20)

shift_up = mtrans.ScaledTranslation(0, 8 / 100, fig.dpi_scale_trans)
for lab in ax.get_yticklabels():
    lab.set_transform(lab.get_transform() + shift_up)

fig.text(70 / W, 1 - 122 / H, r"$\mathcal{F}_2^{\mathrm{max}}(\vartheta)$", fontsize=112, ha="left", va="baseline", color="black")
fig.text(2946 / W, 1 - 1107 / H, r"$\vartheta$", fontsize=108, ha="center", va="center", color="black")

fig.savefig("out.png", dpi=100, facecolor="white")
